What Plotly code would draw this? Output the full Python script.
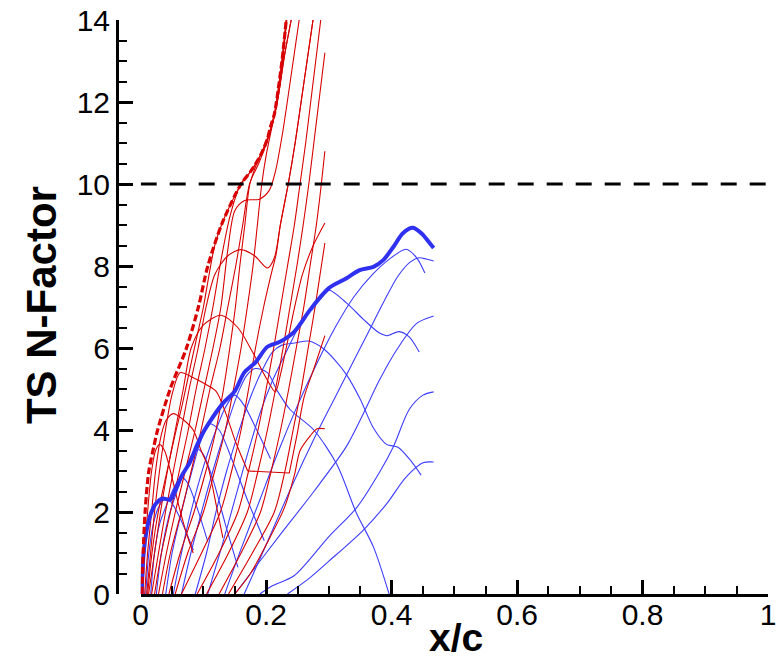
import plotly.graph_objects as go

# ---------------- data (x/c, N) ----------------
red_env_x = [0.002, 0.004, 0.007, 0.013, 0.021, 0.027, 0.047, 0.073, 0.092, 0.107, 0.13, 0.16, 0.175, 0.191, 0.202, 0.207, 0.213, 0.221, 0.226, 0.232]
red_env_n = [0, 1, 2, 3, 3.6, 4, 5, 6, 7, 8, 9.05, 10, 10.3, 10.7, 11.1, 11.4, 11.7, 12.5, 13.1, 14]

red_h1_x = [0.0032, 0.0063, 0.011, 0.0174, 0.0237, 0.03, 0.0379, 0.0474, 0.06, 0.0726, 0.0837]
red_h1_n = [0, 1, 2, 3, 3.5, 3.65, 3.5, 3.0, 2.2, 1.5, 1.0]
red_h2_x = [0.0063, 0.011, 0.0174, 0.0237, 0.0331, 0.041, 0.0521, 0.0679, 0.0837, 0.0963, 0.1073, 0.12, 0.131]
red_h2_n = [0, 1, 2, 3, 3.9, 4.25, 4.4, 4.25, 4.0, 3.5, 3.1, 2.2, 1.37]
red_h3a_x = [0.0095, 0.0158, 0.0221, 0.03, 0.0395, 0.0505, 0.0631, 0.0805, 0.0994, 0.12, 0.1358, 0.1515, 0.1705]
red_h3a_n = [0, 1, 2, 3, 4, 4.9, 5.4, 5.3, 5.15, 4.95, 4.4, 3.7, 3.0]
red_h3b_x = [0.1705, 0.2368]
red_h3b_n = [3.0, 2.95]
red_h3c_x = [0.2368, 0.2494, 0.2605, 0.2762, 0.2936]
red_h3c_n = [2.95, 3.9, 4.8, 5.5, 6.3]
red_h4_x = [0.0126, 0.0221, 0.0316, 0.0426, 0.0552, 0.0679, 0.0805, 0.0994, 0.1279, 0.1547, 0.1784, 0.1989, 0.2147, 0.222, 0.232, 0.244, 0.258, 0.275, 0.2936]
red_h4_n = [0, 1, 2, 3, 4, 5, 6, 6.55, 6.8, 6.5, 5.9, 5.3, 4.93, 5.3, 6.0, 6.9, 7.8, 8.5, 9.05]
red_h5_x = [0.0174, 0.0284, 0.0395, 0.0521, 0.0647, 0.0773, 0.0916, 0.1042, 0.1184, 0.1389, 0.1594, 0.1815, 0.2021, 0.2131, 0.2226, 0.2352, 0.2462, 0.2557, 0.2652, 0.2747]
red_h5_n = [0, 1, 2, 3, 4, 5, 6, 7, 7.8, 8.25, 8.4, 8.25, 7.95, 8.2, 9.0, 10, 11, 12, 13, 14]
red_h6_x = [0.0284, 0.041, 0.0552, 0.071, 0.0868, 0.101, 0.1152, 0.1279, 0.1389, 0.15, 0.1657, 0.1894, 0.2052, 0.2147, 0.2257, 0.2384, 0.2526]
red_h6_n = [0, 1, 2, 3, 4, 5, 6, 7, 8.4, 9.35, 9.6, 9.63, 9.85, 10.3, 11.2, 12.5, 14]
red_m1_x = [0.011, 0.018, 0.028, 0.042, 0.055, 0.066, 0.08, 0.09, 0.1, 0.108, 0.118, 0.13, 0.16, 0.175, 0.191, 0.202, 0.213, 0.221, 0.226, 0.232]
red_m1_n = [0, 1, 2, 3, 3.9, 4.6, 5.6, 6.3, 7.0, 7.7, 8.5, 9.05, 10.0, 10.3, 10.7, 11.1, 11.7, 12.5, 13.1, 14]
red_t1_x = [0.0221, 0.0331, 0.0474, 0.0616, 0.0758, 0.0884, 0.1026, 0.1152, 0.1263, 0.1421, 0.1594, 0.1752, 0.191, 0.2021, 0.2131, 0.221, 0.2257, 0.232]
red_t1_n = [0, 1, 2, 3, 4, 5, 6, 7, 8, 9.2, 10, 10.3, 10.7, 11.1, 11.7, 12.5, 13.1, 14]
red_t2_x = [0.0347, 0.0474, 0.0647, 0.0805, 0.0963, 0.1105, 0.1263, 0.1389, 0.1515, 0.1626, 0.1736, 0.1894, 0.2052, 0.2178, 0.2289, 0.2399]
red_t2_n = [0, 1, 2, 3, 4, 5, 6, 7, 8, 9, 10, 10.55, 11.2, 12.0, 13.1, 14]
red_e2_x = [0.045, 0.063, 0.085, 0.104, 0.12, 0.132, 0.142, 0.151, 0.158, 0.166, 0.174, 0.185, 0.195, 0.204, 0.214, 0.222, 0.227, 0.233]
red_e2_n = [0, 1, 2, 3, 4, 5, 6, 7, 8, 9, 10, 10.5, 10.85, 11.2, 11.72, 12.52, 13.12, 14]
red_e3_x = [0.055, 0.075, 0.1, 0.118, 0.135, 0.148, 0.16, 0.17, 0.179, 0.186, 0.193, 0.2, 0.208, 0.2178, 0.2289, 0.2399]
red_e3_n = [0, 1, 2, 3, 4, 5, 6, 7, 8, 9, 10, 10.7, 11.3, 12.0, 13.1, 14]
red_l15_x = [0.065, 0.097, 0.127, 0.145, 0.16, 0.172, 0.183, 0.196, 0.208, 0.216, 0.2226, 0.2352, 0.2462, 0.2557, 0.2652, 0.2747]
red_l15_n = [0, 1, 2, 3, 4, 5, 6, 7, 7.8, 8.3, 9.0, 10, 11, 12, 13, 14]
red_t5_x = [0.09, 0.125, 0.155, 0.172, 0.187, 0.2, 0.212, 0.223, 0.234, 0.245, 0.254, 0.263, 0.271, 0.279, 0.287]
red_t5_n = [0, 1, 2, 3, 4, 5, 6, 7, 8, 9, 10, 11, 12, 13, 14]
red_t6_x = [0.105, 0.14, 0.17, 0.187, 0.202, 0.215, 0.227, 0.238, 0.249, 0.259, 0.268, 0.276, 0.284, 0.2936]
red_t6_n = [0, 1, 2, 3, 4, 5, 6, 7, 8, 9, 10, 11, 12, 13.2]
red_t7_x = [0.125, 0.16, 0.191, 0.208, 0.223, 0.236, 0.248, 0.26, 0.27, 0.28, 0.288, 0.2936]
red_t7_n = [0, 1, 2, 3, 4, 5, 6, 7, 8, 9, 10, 10.8]
red_t9_x = [0.14, 0.178, 0.213, 0.23, 0.243, 0.256, 0.267, 0.278, 0.288, 0.2936]
red_t9_n = [0, 1, 2, 3, 4, 5, 6, 7, 8, 8.56]
red_a_x = [0.15, 0.175, 0.2, 0.229, 0.245, 0.2541, 0.2699, 0.281, 0.2936]
red_a_n = [0, 0.5, 1.2, 2.1, 2.9, 3.5, 3.85, 4.03, 4.03]

blue_env_x = [0.0016, 0.0047, 0.0095, 0.016, 0.024, 0.035, 0.047, 0.057, 0.066, 0.078, 0.089, 0.1, 0.11, 0.131, 0.15, 0.165, 0.183, 0.202, 0.222, 0.245, 0.27, 0.30, 0.328, 0.349, 0.371, 0.387, 0.403, 0.418, 0.434, 0.45, 0.459, 0.467]
blue_env_n = [0, 1.0, 1.55, 1.95, 2.2, 2.33, 2.3, 2.6, 2.9, 3.2, 3.6, 3.95, 4.2, 4.65, 4.95, 5.4, 5.65, 6.03, 6.15, 6.4, 6.93, 7.46, 7.7, 7.9, 7.98, 8.15, 8.47, 8.8, 8.93, 8.76, 8.59, 8.44]

blue_b1_x = [0.008, 0.013, 0.02, 0.028, 0.037, 0.046, 0.058, 0.07, 0.084]
blue_b1_n = [0, 1.0, 1.7, 2.1, 2.3, 2.28, 2.0, 1.6, 1.07]
blue_b2_x = [0.016, 0.022, 0.03, 0.042, 0.055, 0.065, 0.075, 0.09, 0.107]
blue_b2_n = [0, 1.0, 1.7, 2.2, 2.65, 2.85, 2.7, 2.1, 1.27]
blue_b3_x = [0.025, 0.033, 0.045, 0.06, 0.075, 0.089, 0.1, 0.115, 0.135, 0.155]
blue_b3_n = [0, 1.0, 1.9, 2.6, 3.2, 3.55, 3.4, 2.8, 1.7, 0.65]
blue_b4_x = [0.04, 0.05, 0.065, 0.08, 0.095, 0.11, 0.125, 0.145, 0.17, 0.197]
blue_b4_n = [0, 1.0, 2.0, 2.9, 3.7, 4.15, 4.0, 3.3, 2.3, 1.3]
blue_b5_x = [0.052, 0.065, 0.08, 0.1, 0.12, 0.135, 0.15, 0.165, 0.185, 0.207]
blue_b5_n = [0, 1.0, 2.0, 3.1, 4.0, 4.55, 4.85, 4.6, 4.0, 3.3]
blue_b6_x = [0.065, 0.08, 0.097, 0.115, 0.135, 0.155, 0.17, 0.183, 0.202, 0.218, 0.238, 0.276, 0.313, 0.344, 0.371, 0.396]
blue_b6_n = [0, 1.0, 2.0, 3.0, 4.0, 4.9, 5.35, 5.5, 5.4, 4.95, 4.5, 4.0, 3.15, 1.97, 1.15, 0]
blue_b7_x = [0.087, 0.105, 0.12, 0.137, 0.155, 0.175, 0.195, 0.21, 0.225, 0.245, 0.268, 0.29, 0.31, 0.328, 0.35, 0.371, 0.392, 0.41, 0.428, 0.447]
blue_b7_n = [0, 1.0, 2.0, 3.0, 3.9, 4.8, 5.5, 5.9, 6.07, 6.12, 6.17, 6.0, 5.7, 5.35, 4.75, 4.05, 3.65, 3.58, 3.3, 2.9]
blue_b8_x = [0.107, 0.13, 0.15, 0.17, 0.19, 0.21, 0.235, 0.26, 0.28, 0.3, 0.328, 0.355, 0.38, 0.392, 0.412, 0.428, 0.444]
blue_b8_n = [0, 1.2, 2.3, 3.4, 4.4, 5.2, 6.0, 6.75, 7.15, 7.41, 7.1, 6.7, 6.37, 6.3, 6.4, 6.27, 5.9]
blue_b9_x = [0.134, 0.16, 0.19, 0.22, 0.25, 0.28, 0.31, 0.34, 0.37, 0.395, 0.423, 0.44, 0.453]
blue_b9_n = [0, 1.1, 2.3, 3.5, 4.6, 5.6, 6.5, 7.25, 7.8, 8.15, 8.41, 8.2, 7.83]
blue_b10_x = [0.165, 0.2, 0.24, 0.28, 0.31, 0.34, 0.37, 0.39, 0.41, 0.43, 0.444, 0.455, 0.467]
blue_b10_n = [0, 1.2, 2.6, 3.9, 4.8, 5.7, 6.6, 7.2, 7.75, 8.1, 8.2, 8.17, 8.12]
blue_b11_x = [0.15, 0.175, 0.22, 0.276, 0.328, 0.355, 0.38, 0.41, 0.44, 0.467]
blue_b11_n = [0, 0.5, 1.4, 2.5, 3.6, 4.4, 5.2, 6.0, 6.6, 6.78]
blue_b12_x = [0.19, 0.21, 0.245, 0.3, 0.344, 0.38, 0.403, 0.428, 0.45, 0.467]
blue_b12_n = [0, 0.2, 0.45, 1.4, 2.1, 2.95, 3.6, 4.5, 4.85, 4.93]
blue_b13_x = [0.234, 0.27, 0.3, 0.355, 0.392, 0.423, 0.45, 0.467]
blue_b13_n = [0, 0.4, 0.8, 1.56, 2.2, 2.85, 3.2, 3.22]

threshold_n = 10
x_ticks = [0, 0.2, 0.4, 0.6, 0.8, 1]
x_tick_text = ["0", "0.2", "0.4", "0.6", "0.8", "1"]
y_ticks = [0, 2, 4, 6, 8, 10, 12, 14]

# ---------------- figure ----------------
RED = "#d80000"
BLUE = "#3c3cff"
BLUE_ENV = "#3030f0"

fig = go.Figure()

red_thin = [
    (red_h1_x, red_h1_n), (red_h2_x, red_h2_n), (red_h3a_x, red_h3a_n),
    (red_h3c_x, red_h3c_n), (red_h4_x, red_h4_n), (red_h5_x, red_h5_n),
    (red_h6_x, red_h6_n), (red_m1_x, red_m1_n), (red_t1_x, red_t1_n),
    (red_t2_x, red_t2_n), (red_e2_x, red_e2_n), (red_e3_x, red_e3_n),
    (red_l15_x, red_l15_n), (red_t5_x, red_t5_n), (red_t6_x, red_t6_n),
    (red_t7_x, red_t7_n), (red_t9_x, red_t9_n), (red_a_x, red_a_n),
]
blue_thin = [
    (blue_b1_x, blue_b1_n), (blue_b2_x, blue_b2_n), (blue_b3_x, blue_b3_n),
    (blue_b4_x, blue_b4_n), (blue_b5_x, blue_b5_n), (blue_b6_x, blue_b6_n),
    (blue_b7_x, blue_b7_n), (blue_b8_x, blue_b8_n), (blue_b9_x, blue_b9_n),
    (blue_b10_x, blue_b10_n), (blue_b11_x, blue_b11_n), (blue_b12_x, blue_b12_n),
    (blue_b13_x, blue_b13_n),
]

for xs, ns in blue_thin:
    fig.add_trace(go.Scatter(x=xs, y=ns, mode="lines",
                             line=dict(color=BLUE, width=1.1, shape="spline", smoothing=0.8),
                             showlegend=False, hoverinfo="skip"))
for xs, ns in red_thin:
    fig.add_trace(go.Scatter(x=xs, y=ns, mode="lines",
                             line=dict(color=RED, width=1.1, shape="spline", smoothing=0.8),
                             showlegend=False, hoverinfo="skip"))
fig.add_trace(go.Scatter(x=red_h3b_x, y=red_h3b_n, mode="lines",
                         line=dict(color=RED, width=1.1),
                         showlegend=False, hoverinfo="skip"))

fig.add_trace(go.Scatter(x=blue_env_x, y=blue_env_n, mode="lines",
                         line=dict(color=BLUE_ENV, width=4, shape="spline", smoothing=0.8),
                         showlegend=False, hoverinfo="skip"))
fig.add_trace(go.Scatter(x=red_env_x, y=red_env_n, mode="lines",
                         line=dict(color=RED, width=3.2, dash="7px,3px", shape="spline", smoothing=0.8),
                         showlegend=False, hoverinfo="skip"))

fig.add_shape(type="line", xref="x", yref="y", x0=0, x1=1, y0=threshold_n, y1=threshold_n,
              line=dict(color="black", width=3, dash="16px,13px"))

tick_font = dict(family="Liberation Sans, Arial, sans-serif", size=30, color="black")
ytitle_font = dict(family="Liberation Sans, Arial, sans-serif", size=42, color="black")
xtitle_font = dict(family="Liberation Sans, Arial, sans-serif", size=39, color="black")

fig.update_layout(
    width=779, height=662,
    margin=dict(l=117, r=3, t=20, b=68),
    paper_bgcolor="white", plot_bgcolor="white",
    xaxis=dict(domain=[0.0364, 1], range=[0, 1], showgrid=False, zeroline=False,
               showline=True, linecolor="black", linewidth=3, mirror=False,
               ticks="inside", ticklen=14, tickwidth=3, tickcolor="black",
               tickvals=x_ticks, ticktext=x_tick_text, tickfont=tick_font,
               ticklabeloverflow="allow", ticklabelstandoff=-8,
               minor=dict(ticks="inside", ticklen=8, tickwidth=1.5, tickcolor="black",
                          dtick=0.05, tick0=0, showgrid=False)),
    yaxis=dict(anchor="free", position=0, range=[0, 14], showgrid=False, zeroline=False,
               showline=True, linecolor="black", linewidth=3, mirror=False,
               ticks="inside", ticklen=14, tickwidth=3, tickcolor="black",
               tickvals=y_ticks, tickfont=tick_font, ticklabeloverflow="allow",
               minor=dict(ticks="inside", ticklen=8, tickwidth=1.5, tickcolor="black",
                          dtick=0.5, tick0=0, showgrid=False)),
    annotations=[
        dict(text="<b>TS N-Factor</b>", xref="paper", yref="paper", x=-0.117, y=0.503,
             textangle=-90, showarrow=False, xanchor="center", yanchor="middle",
             font=ytitle_font),
        dict(text="<b>x/c</b>", xref="paper", yref="paper", x=0.52, y=-0.076,
             showarrow=False, xanchor="center", yanchor="middle",
             font=xtitle_font),
    ],
)

fig.write_html("out.html")
